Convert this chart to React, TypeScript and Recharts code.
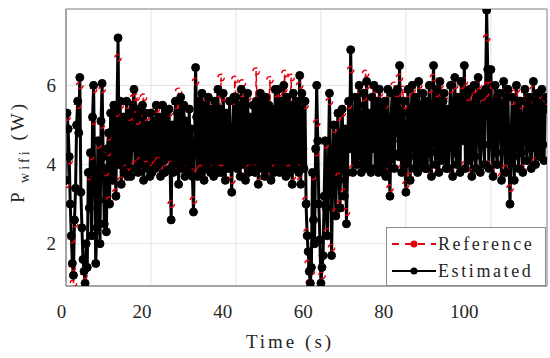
import React from 'react'
import { LineChart, Line, XAxis, YAxis, CartesianGrid, Legend, ReferenceArea } from 'recharts'

// sampled every 0.25 s, 0 … 113 s
const SAMPLE_STEP = 0.25

const estimated = [
  3.6, 5.3, 4.9, 4.2, 3.0, 2.2, 1.5, 1.2, 2.6, 3.4, 5.0, 5.6, 4.8, 6.2, 3.3, 2.4, 1.6, 1.3, 1.0, 2.0,
  1.4, 3.8, 2.9, 4.3, 2.2, 5.2, 6.0, 3.6, 1.5, 2.4, 4.6, 3.1, 2.0, 5.1, 6.05, 4.2, 2.5, 3.9, 2.3, 4.4,
  4.8, 3.0, 5.3, 4.1, 3.6, 5.5, 4.6, 3.2, 5.4, 7.2, 4.0, 5.6, 3.5, 4.9, 5.2, 3.8, 4.5, 5.6, 3.7, 4.8,
  5.3, 3.7, 4.6, 5.5, 5.9, 3.9, 4.4, 5.2, 3.8, 5.4, 4.0, 4.9, 5.5, 3.6, 4.2, 5.3, 3.9, 5.0, 4.5, 3.7,
  5.3, 3.8, 4.7, 5.1, 3.9, 5.5, 4.3, 4.0, 5.2, 3.7, 4.8, 5.5, 4.1, 3.8, 5.3, 4.6, 4.2, 5.4, 3.9, 2.6,
  5.0, 3.8, 4.4, 5.6, 4.0, 5.3, 3.5, 4.8, 5.7, 3.9, 4.3, 5.5, 3.7, 5.1, 4.6, 3.8, 5.4, 4.0, 4.9, 3.7,
  2.8, 4.5, 6.45, 5.2, 3.7, 5.6, 4.2, 3.8, 5.8, 4.4, 3.6, 5.5, 4.7, 3.9, 5.7, 4.1, 3.8, 5.4, 4.8, 3.7,
  5.6, 3.9, 4.6, 5.9, 3.8, 5.4, 4.3, 3.8, 5.8, 4.5, 3.6, 5.3, 4.9, 3.9, 5.6, 4.2, 3.3, 4.8, 5.7, 4.0,
  5.7, 3.9, 4.7, 5.5, 3.7, 5.9, 4.0, 4.5, 5.6, 3.6, 4.9, 5.8, 3.8, 5.2, 4.4, 3.9, 5.5, 4.6, 3.8, 5.6,
  5.5, 3.5, 4.8, 5.8, 3.9, 5.6, 4.3, 3.7, 5.7, 4.6, 3.9, 5.5, 4.1, 3.6, 5.4, 4.8, 3.8, 5.9, 4.2, 3.9,
  5.9, 3.8, 4.6, 5.6, 3.9, 6.0, 4.4, 3.7, 5.7, 4.9, 3.8, 5.5, 4.2, 3.5, 5.8, 4.5, 3.9, 5.6, 4.7, 3.8,
  6.25, 3.5, 5.8, 4.4, 3.9, 5.6, 3.0, 2.2, 1.8, 1.3, 1.0, 1.4, 3.8, 2.6, 2.0, 4.4, 6.0, 4.6, 3.0, 2.1,
  1.0, 1.4, 1.7, 3.2, 4.6, 2.9, 2.2, 4.0, 5.8, 4.1, 1.7, 3.5, 5.0, 4.2, 2.7, 4.6, 5.3, 3.6, 2.9, 4.8,
  5.4, 4.1, 3.2, 4.9, 2.5, 3.8, 5.6, 4.4, 6.9, 5.1, 3.8, 4.6, 5.7, 4.2, 4.0, 5.5, 6.0, 4.3, 3.8, 5.2,
  5.8, 3.9, 4.8, 6.1, 4.0, 5.3, 4.6, 3.8, 5.7, 4.4, 6.0, 3.9, 4.9, 5.6, 3.8, 5.9, 4.3, 4.0, 5.5, 3.8,
  5.6, 3.7, 4.5, 5.9, 4.1, 3.2, 5.1, 5.8, 4.3, 3.9, 5.6, 4.8, 5.9, 4.2, 6.5, 4.6, 3.8, 5.3, 5.6, 4.0,
  3.3, 4.9, 5.9, 4.2, 3.6, 5.4, 6.0, 4.5, 3.9, 5.7, 4.4, 3.8, 6.1, 4.7, 4.0, 5.5, 5.8, 4.1, 3.9, 5.6,
  3.9, 5.2, 6.0, 4.3, 3.7, 5.5, 6.5, 4.6, 4.0, 5.9, 4.8, 3.8, 6.1, 4.4, 4.1, 5.6, 5.8, 4.2, 3.9, 5.4,
  3.9, 5.3, 6.0, 4.5, 3.7, 5.6, 6.2, 4.3, 4.0, 5.7, 4.9, 3.8, 6.1, 4.6, 5.3, 6.5, 3.9, 4.8, 5.8, 4.1,
  5.9, 4.4, 3.7, 5.5, 6.0, 4.2, 3.9, 5.7, 6.2, 4.7, 3.8, 5.4, 5.8, 4.5, 4.0, 5.9, 7.9, 6.4, 3.9, 5.2,
  6.4, 4.6, 3.7, 5.5, 6.0, 4.3, 4.0, 5.6, 5.8, 4.9, 3.6, 5.3, 6.1, 4.4, 3.8, 5.7, 5.9, 4.1, 3.0, 4.6,
  5.7, 4.2, 3.6, 5.4, 6.0, 4.5, 3.9, 5.6, 5.6, 4.3, 3.8, 5.2, 5.9, 4.7, 4.1, 5.5, 5.7, 4.4, 3.9, 5.3,
  6.1, 4.6, 4.0, 5.6, 5.8, 4.3, 4.2, 5.5, 5.9, 4.5, 4.1, 5.4, 5.7,
]

const reference = [
  3.5, 5.2, 4.9, 4.1, 3.0, 2.1, 1.4, 1.0, 2.5, 3.4, 4.9, 5.5, 4.8, 6.0, 3.3, 2.4, 1.6, 1.2, 1.0, 2.0,
  1.4, 3.7, 2.9, 4.2, 2.2, 5.1, 5.9, 3.6, 1.5, 2.4, 4.5, 3.1, 2.0, 5.0, 5.9, 4.2, 2.5, 3.8, 2.3, 4.3,
  4.7, 3.1, 5.3, 4.1, 3.6, 5.4, 4.6, 3.3, 5.3, 6.7, 4.0, 5.5, 3.6, 4.9, 5.2, 3.9, 4.5, 5.5, 3.8, 4.8,
  5.2, 3.8, 4.6, 5.4, 5.7, 4.0, 5.7, 5.1, 3.9, 5.3, 4.1, 4.9, 5.4, 5.7, 4.2, 5.2, 4.0, 5.0, 4.5, 3.8,
  5.2, 3.9, 4.7, 5.1, 4.0, 5.4, 4.3, 4.1, 5.2, 3.8, 4.8, 5.4, 4.1, 3.9, 5.3, 4.6, 4.2, 5.3, 4.0, 3.0,
  5.0, 3.9, 4.4, 5.5, 4.0, 5.3, 5.85, 4.8, 5.6, 3.9, 4.3, 5.5, 3.8, 5.1, 4.6, 3.9, 5.4, 4.0, 4.9, 3.8,
  3.1, 4.5, 6.1, 5.2, 3.8, 5.6, 4.2, 3.9, 5.7, 4.4, 3.7, 5.5, 4.7, 3.9, 5.6, 4.1, 3.9, 5.4, 4.8, 3.8,
  5.6, 3.9, 4.6, 5.8, 3.9, 5.4, 6.2, 3.9, 5.7, 4.5, 3.7, 5.3, 4.9, 3.9, 5.6, 4.2, 3.6, 4.8, 5.6, 6.15,
  5.6, 3.9, 4.7, 5.5, 3.8, 5.8, 6.06, 4.5, 5.6, 3.7, 4.9, 5.7, 3.9, 5.2, 4.4, 3.9, 5.5, 4.6, 3.9, 6.36,
  5.5, 3.7, 4.8, 5.7, 3.9, 5.6, 4.3, 3.8, 5.7, 4.6, 3.9, 5.5, 6.14, 3.7, 5.4, 4.8, 3.9, 5.8, 4.2, 3.9,
  5.8, 3.9, 4.6, 5.6, 3.9, 5.9, 6.3, 3.8, 5.7, 4.9, 3.9, 5.5, 6.2, 3.7, 5.7, 4.5, 3.9, 5.6, 4.7, 3.9,
  6.0, 3.6, 5.7, 4.4, 3.9, 5.5, 3.1, 2.3, 1.5, 1.0, 1.0, 1.3, 3.7, 2.6, 2.0, 4.3, 5.05, 4.6, 3.0, 2.1,
  1.0, 1.2, 1.7, 3.2, 4.5, 2.9, 2.3, 4.0, 5.6, 4.1, 1.9, 3.5, 4.9, 4.2, 2.8, 4.6, 5.2, 3.7, 3.0, 4.8,
  5.3, 4.1, 3.3, 4.9, 2.8, 3.8, 5.5, 4.4, 6.4, 5.1, 3.9, 4.6, 5.6, 4.2, 4.0, 5.5, 5.9, 4.3, 3.9, 5.2,
  5.7, 3.9, 6.3, 6.0, 4.0, 5.3, 4.6, 3.9, 5.7, 4.4, 5.9, 3.9, 4.9, 5.6, 3.9, 5.8, 4.3, 4.0, 5.5, 3.9,
  5.5, 3.8, 4.5, 5.8, 4.1, 3.4, 5.1, 5.7, 4.3, 6.0, 5.6, 4.8, 5.8, 4.2, 6.2, 4.6, 3.9, 5.9, 5.5, 4.0,
  3.5, 4.9, 5.8, 4.2, 3.7, 5.4, 5.9, 4.5, 3.9, 5.7, 4.4, 3.9, 6.0, 4.7, 4.0, 5.5, 5.7, 4.1, 3.9, 5.6,
  3.9, 5.2, 5.9, 4.3, 3.8, 5.5, 6.2, 4.6, 4.0, 5.8, 4.8, 3.9, 6.0, 4.4, 4.1, 5.6, 5.7, 4.2, 3.9, 5.4,
  3.9, 5.3, 5.9, 4.5, 3.8, 5.6, 6.0, 4.3, 4.0, 5.7, 4.9, 3.9, 6.0, 4.6, 5.3, 6.1, 4.0, 4.8, 5.7, 4.1,
  5.8, 4.4, 3.8, 5.5, 5.9, 4.2, 3.9, 5.7, 6.0, 4.7, 3.9, 5.4, 5.7, 4.5, 4.0, 5.8, 7.2, 6.0, 4.0, 5.2,
  6.0, 4.6, 3.8, 5.5, 5.9, 4.3, 4.0, 5.6, 5.7, 4.9, 3.7, 5.3, 6.0, 4.4, 3.9, 5.7, 5.8, 4.1, 3.4, 4.6,
  5.6, 4.2, 5.8, 5.4, 5.9, 4.5, 3.9, 5.6, 5.5, 4.3, 3.9, 5.2, 5.8, 4.7, 4.1, 5.5, 5.6, 4.4, 4.0, 5.3,
  5.9, 4.6, 4.1, 5.6, 5.7, 4.3, 4.2, 5.5, 5.8, 4.5, 4.1, 5.4, 5.6,
]

const xTicks = [0, 20, 40, 60, 80, 100]
const yTicks = [2, 4, 6]
const X_MAX = 113.2
const Y_MIN = 0.93
const Y_MAX = 7.93

const RED = '#e3000f'
const INK = '#262626'
const FONT = '"Liberation Serif", "DejaVu Serif", serif'

const data = estimated.map((v, i) => ({
  t: i * SAMPLE_STEP,
  est: v,
  ref: reference[i],
}))

// the x labels in the original sit a little left of their grid lines
const XTick = ({ x, y, payload }: any) => (
  <text x={62 + (x - 66.5) * 0.948} y={y} dy="0.71em" textAnchor="middle" fontFamily={FONT} fontSize={19} fill={INK}>
    {payload.value}
  </text>
)

const YLabel = () => (
  <text
    transform="translate(24,152) rotate(-90)"
    textAnchor="middle"
    fontFamily={FONT}
    fontSize={19}
    fill={INK}
    letterSpacing={3}
  >
    P
    <tspan fontSize={14} dy={5}> wifi</tspan>
    <tspan dy={-5}> (W)</tspan>
  </text>
)

const XLabel = () => (
  <text x={290} y={348} textAnchor="middle" fontFamily={FONT} fontSize={19} fill={INK} letterSpacing={3}>
    Time (s)
  </text>
)

const LegendBox = () => (
  <div
    style={{
      width: 158,
      height: 57,
      background: '#fff',
      border: '1px solid #8c8c8c',
      fontFamily: FONT,
      fontSize: 18,
      color: INK,
      letterSpacing: 2.6,
      boxSizing: 'content-box',
    }}
  >
    <div style={{ display: 'flex', alignItems: 'center', height: 28, marginTop: 2 }}>
      <svg width={48} height={20} style={{ marginLeft: 3 }}>
        <line x1={2} y1={10} x2={46} y2={10} stroke={RED} strokeWidth={2} strokeDasharray="7 6" />
        <circle cx={24} cy={10} r={3.5} fill={RED} />
      </svg>
      <span>Reference</span>
    </div>
    <div style={{ display: 'flex', alignItems: 'center', height: 26 }}>
      <svg width={48} height={20} style={{ marginLeft: 3 }}>
        <line x1={2} y1={10} x2={46} y2={10} stroke="#000" strokeWidth={2} />
        <circle cx={24} cy={10} r={3.5} fill="#000" />
      </svg>
      <span>Estimated</span>
    </div>
  </div>
)

export default function App() {
  return (
    <div style={{ position: 'absolute', left: 0, top: 0, width: 550, height: 358, background: '#fff' }}>
      <LineChart width={550} height={358} data={data} margin={{ top: 9, right: 3, bottom: 32, left: 16 }}>
        <CartesianGrid stroke="#e3e3e3" strokeWidth={1} />
        <XAxis
          dataKey="t"
          type="number"
          domain={[0, X_MAX]}
          ticks={xTicks}
          allowDataOverflow
          height={40}
          tickLine={false}
          tickMargin={13}
          axisLine={{ stroke: '#8c8c8c' }}
          tick={<XTick />}
          label={<XLabel />}
        />
        <YAxis
          type="number"
          domain={[Y_MIN, Y_MAX]}
          ticks={yTicks}
          allowDataOverflow
          width={50}
          tickLine={false}
          tickMargin={4}
          axisLine={{ stroke: '#8c8c8c' }}
          tick={{ fontSize: 19, fill: INK, fontFamily: FONT }}
          label={<YLabel />}
        />
        <ReferenceArea x1={0} x2={X_MAX} y1={Y_MIN} y2={Y_MAX} fill="none" stroke="#8c8c8c" strokeWidth={1} />
        <Line
          dataKey="ref"
          type="linear"
          stroke={RED}
          strokeWidth={1.5}
          strokeDasharray="6 4"
          dot={{ r: 3.2, stroke: RED, strokeWidth: 1.4, fill: 'none' }}
          isAnimationActive={false}
        />
        <Line
          dataKey="est"
          type="linear"
          stroke="#000"
          strokeWidth={3}
          dot={{ r: 4, stroke: '#000', strokeWidth: 1, fill: '#000' }}
          isAnimationActive={false}
        />
        <Legend
          layout="horizontal"
          verticalAlign="middle"
          align="center"
          content={<LegendBox />}
          wrapperStyle={{ left: 386, top: 227, width: 160, height: 59 }}
        />
      </LineChart>
    </div>
  )
}
